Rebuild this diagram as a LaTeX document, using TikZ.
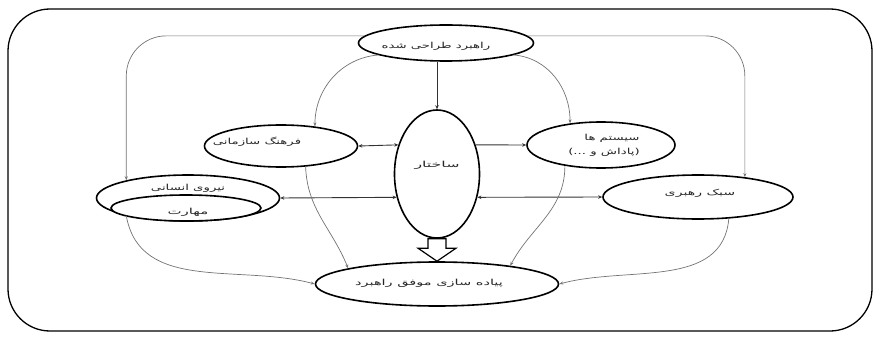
\documentclass[tikz,border=0pt]{standalone}
\usepackage{fontspec}
\usepackage{graphicx}
\usetikzlibrary{shapes.geometric,arrows.meta,calc}
\newfontfamily\fa[Script=Arabic]{DejaVu Sans}
\TeXXeTstate=1
\newcommand\fatxt[2][1.6]{\scalebox{#1}[1]{\fa\beginR #2\endR}}
\begin{document}
\begin{tikzpicture}[x=1pt,y=-1pt,
  ell/.style={ellipse, draw=black, line width=1.6pt, inner sep=0pt, fill=white},
  lbl/.style={inner sep=0pt, font=\fontsize{8.3}{10}\selectfont, text=black!85},
  conn/.style={draw=black!55, line width=0.7pt, -{Stealth[length=4pt,width=3pt]}},
  hconn/.style={draw=black!80, line width=0.9pt, {Stealth[length=4pt,width=3.5pt]}-{Stealth[length=4pt,width=3.5pt]}},
  sconn/.style={draw=black!80, line width=0.9pt, -{Stealth[length=4pt,width=3.5pt]}},
  block/.style={draw=black, line width=1.2pt, fill=white, line join=miter}
]
\useasboundingbox (0,0) rectangle (879,337);
\draw[line width=1.3pt, rounded corners=42pt] (8,9) rectangle (872,331);

% ellipses
\node[ell, minimum width=175, minimum height=36] (top) at (446,43) {};
\node[ell, minimum width=85, minimum height=128] (ctr) at (437,174) {};
\node[ell, minimum width=153, minimum height=42] (cul) at (281,146) {};
\node[ell, minimum width=148, minimum height=46] (sys) at (601,145) {};
\node[ell, minimum width=183, minimum height=46] (hum) at (188,198) {};
\node[ell, minimum width=150, minimum height=26] (skl) at (186,208) {};
\node[ell, minimum width=190, minimum height=44] (lead) at (698,197) {};
\node[ell, minimum width=243, minimum height=44] (bot) at (437,284) {};

% texts
\node[lbl] (toptxt) at (436,46) {\fatxt{راهبرد طراحی شده}};
\node[lbl] (ctrtxt) at (437,165) {\fatxt[1.9]{ساختار}};
\node[lbl] (cultxt) at (257,142) {\fatxt{فرهنگ سازمانی}};
\node[lbl] (systxt1) at (612,138) {\fatxt{سیستم ها}};
\node[lbl] (systxt2) at (604,152) {\fatxt{(پاداش و ...)}};
\node[lbl] (humtxt) at (188,188) {\fatxt{نیروی انسانی}};
\node[lbl] (skltxt) at (188,212) {\fatxt[1.8]{مهارت}};
\node[lbl] (leadtxt) at (700,193) {\fatxt[1.7]{سبک رهبری}};
\node[lbl] (bottxt) at (429,283) {\fatxt[1.75]{پیاده سازی موفق راهبرد}};

% from top
\draw[sconn] (ctr.north |- top.south) -- (ctr.north);
\draw[conn, rounded corners=40] (top.175) -| (hum.164);
\draw[conn, rounded corners=40] (top.5) -| (lead.23);
\draw[conn] (top.190) to[out=185,in=90] (cul.30);
\draw[conn] (top.-10) to[out=-5,in=90] (sys.145);

% horizontal
\draw[hconn] (cul.east) -- (ctr.143);
\draw[sconn] (ctr.37) -- (sys.west);
\draw[hconn] (hum.east) -- (ctr.210);
\draw[hconn] (lead.west) -- (ctr.-30);

% to bottom
\draw[conn] (cul.-40) to[out=-88,in=112] (bot.170);
\draw[conn] (sys.-150) to[out=-90,in=62] (bot.14);
\draw[conn] (hum.196) to[out=-80,in=165] (bot.west);
\draw[conn] (lead.-35) to[out=-95,in=15] (bot.east);

% block arrow
\draw[block] ($(ctr.south)+(-9,0)$) -- ($(ctr.south)+(9,0)$) -- ($(bot.north)+(9,-13)$) -- ($(bot.north)+(19,-13)$) -- (bot.north) -- ($(bot.north)+(-19,-13)$) -- ($(bot.north)+(-9,-13)$) -- cycle;
\end{tikzpicture}
\end{document}
